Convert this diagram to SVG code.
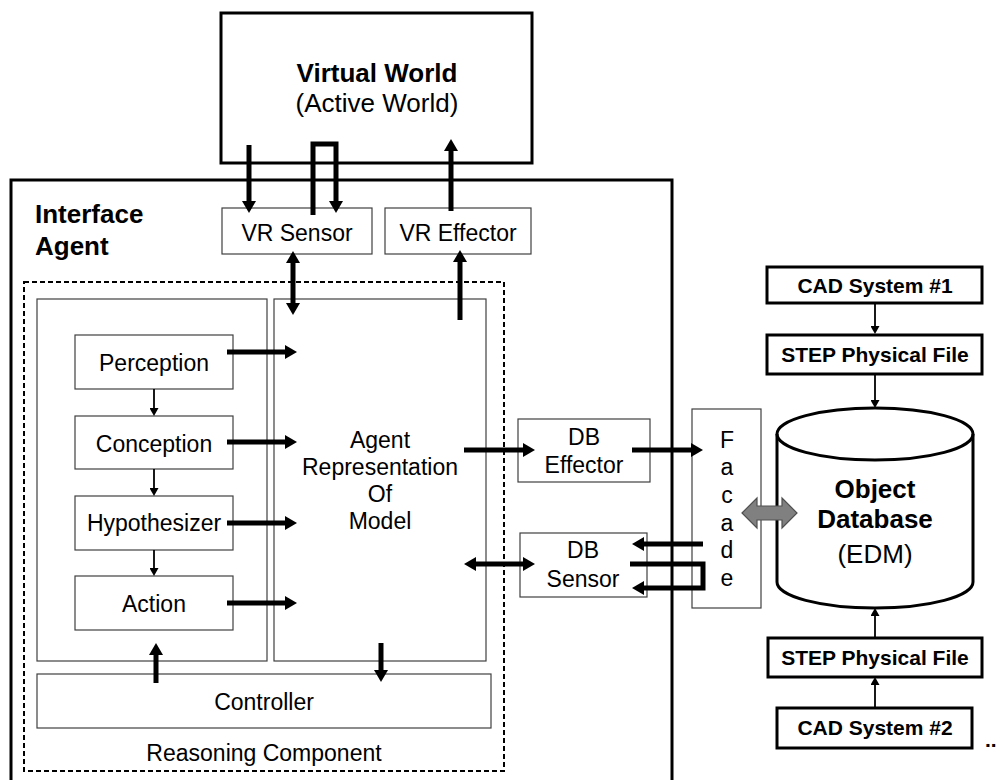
<svg xmlns="http://www.w3.org/2000/svg" width="1000" height="780" viewBox="0 0 1000 780">
<style>
.t{font-family:"Liberation Sans",Arial,sans-serif;font-size:23px;fill:#000;text-anchor:middle}
.b{font-family:"Liberation Sans",Arial,sans-serif;font-weight:bold;fill:#000}
.thick{fill:#fff;stroke:#000;stroke-width:3}
.thin{fill:#fff;stroke:#404040;stroke-width:1.2}
.c{fill:none;stroke:#000;stroke-width:5}
.cs{fill:none;stroke:#000;stroke-width:1.8}
</style>
<defs>
<marker id="ah" viewBox="0 0 12 14" refX="4" refY="7" markerWidth="12" markerHeight="14" markerUnits="userSpaceOnUse" orient="auto-start-reverse">
<path d="M0,0 L12,7 L0,14 Z" fill="#000"/>
</marker>
<marker id="ahs" viewBox="0 0 8 9" refX="2" refY="4.5" markerWidth="8" markerHeight="9" markerUnits="userSpaceOnUse" orient="auto">
<path d="M0,0 L8,4.5 L0,9 Z" fill="#000"/>
</marker>
</defs>
<rect width="1000" height="780" fill="#fff"/>

<g id="interface-agent">
<rect class="thick" x="11" y="180" width="661" height="640"/>
<text class="b" font-size="26" x="35" y="223">Interface</text>
<text class="b" font-size="26" x="35" y="255">Agent</text>
</g>

<g id="virtual-world">
<rect class="thick" x="221" y="13" width="311" height="150"/>
<text class="b" font-size="26" x="377" y="82" text-anchor="middle">Virtual World</text>
<text class="t" font-size="26" x="377" y="112" style="font-size:26px">(Active World)</text>
</g>

<g id="vr-sensor">
<rect class="thin" x="222" y="208" width="150" height="46"/>
<text class="t" x="297" y="241">VR Sensor</text>
</g>
<g id="vr-effector">
<rect class="thin" x="385" y="208" width="146" height="46"/>
<text class="t" x="458" y="241">VR Effector</text>
</g>

<g id="reasoning-component">
<rect x="24" y="282" width="480" height="489" fill="none" stroke="#000" stroke-width="2" stroke-dasharray="5,3"/>
<text class="t" x="264" y="761">Reasoning Component</text>
</g>

<g id="process-panel">
<rect class="thin" x="37" y="299" width="230" height="362"/>
</g>
<g id="perception">
<rect class="thin" x="75" y="335" width="158" height="54"/>
<text class="t" x="154" y="371">Perception</text>
</g>
<g id="conception">
<rect class="thin" x="75" y="416" width="158" height="53"/>
<text class="t" x="154" y="452">Conception</text>
</g>
<g id="hypothesizer">
<rect class="thin" x="75" y="496" width="158" height="54"/>
<text class="t" x="154" y="531">Hypothesizer</text>
</g>
<g id="action">
<rect class="thin" x="75" y="576" width="158" height="54"/>
<text class="t" x="154" y="612">Action</text>
</g>

<g id="agent-model">
<rect class="thin" x="274" y="299" width="212" height="362"/>
<text class="t" x="380" y="448">Agent</text>
<text class="t" x="380" y="475">Representation</text>
<text class="t" x="380" y="502">Of</text>
<text class="t" x="380" y="529">Model</text>
</g>

<g id="controller">
<rect class="thin" x="37" y="674" width="454" height="54"/>
<text class="t" x="264" y="710">Controller</text>
</g>

<g id="db-effector">
<rect class="thin" x="518" y="419" width="132" height="63"/>
<text class="t" x="584" y="445">DB</text>
<text class="t" x="584" y="473">Effector</text>
</g>
<g id="db-sensor">
<rect class="thin" x="520" y="533" width="127" height="64"/>
<text class="t" x="583" y="558">DB</text>
<text class="t" x="583" y="587">Sensor</text>
</g>

<g id="facade">
<rect class="thin" x="692" y="409" width="69" height="199"/>
<text class="t" x="727" y="448">F</text>
<text class="t" x="727" y="475">a</text>
<text class="t" x="727" y="503">c</text>
<text class="t" x="727" y="531">a</text>
<text class="t" x="727" y="558">d</text>
<text class="t" x="727" y="586">e</text>
</g>

<g id="object-database">
<path d="M777,434 A98,26 0 0,1 973,434 V582 A98,26 0 0,1 777,582 Z" fill="#fff" stroke="#000" stroke-width="3"/>
<path d="M777,434 A98,26 0 0,0 973,434" fill="none" stroke="#000" stroke-width="3"/>
<text class="b" font-size="26" x="875" y="498" text-anchor="middle">Object</text>
<text class="b" font-size="26" x="875" y="528" text-anchor="middle">Database</text>
<text class="t" x="875" y="563" style="font-size:26px">(EDM)</text>
</g>

<g id="cad-system-1">
<rect class="thick" x="767" y="267" width="215" height="36"/>
<text class="b" font-size="21" x="875" y="293" text-anchor="middle">CAD System #1</text>
</g>
<g id="step-file-1">
<rect class="thick" x="767" y="335" width="215" height="39"/>
<text class="b" font-size="21" x="875" y="362" text-anchor="middle">STEP Physical File</text>
</g>
<g id="step-file-2">
<rect class="thick" x="768" y="638" width="214" height="39"/>
<text class="b" font-size="21" x="875" y="665" text-anchor="middle">STEP Physical File</text>
</g>
<g id="cad-system-2">
<rect class="thick" x="777" y="708" width="195" height="40"/>
<text class="b" font-size="21" x="875" y="735" text-anchor="middle">CAD System #2</text>
</g>
<g id="more">
<text class="b" font-size="21" x="985" y="747">..</text>
</g>

<g id="connectors">
<line class="c" x1="249" y1="145" x2="249" y2="205" marker-end="url(#ah)"/>
<path class="c" d="M313,215 V144 H336 V205" marker-end="url(#ah)"/>
<line class="c" x1="451" y1="211" x2="451" y2="147" marker-end="url(#ah)"/>
<line class="c" x1="293" y1="259" x2="293" y2="307" marker-start="url(#ah)" marker-end="url(#ah)"/>
<line class="c" x1="460" y1="320" x2="460" y2="258" marker-end="url(#ah)"/>
<line class="c" x1="227" y1="352" x2="289" y2="352" marker-end="url(#ah)"/>
<line class="c" x1="227" y1="442" x2="289" y2="442" marker-end="url(#ah)"/>
<line class="c" x1="227" y1="523" x2="289" y2="523" marker-end="url(#ah)"/>
<line class="c" x1="227" y1="603" x2="289" y2="603" marker-end="url(#ah)"/>
<line class="c" x1="156" y1="683" x2="156" y2="651" marker-end="url(#ah)"/>
<line class="c" x1="381" y1="643" x2="381" y2="674" marker-end="url(#ah)"/>
<line class="c" x1="464" y1="450" x2="527" y2="450" marker-end="url(#ah)"/>
<line class="c" x1="632" y1="450" x2="695" y2="450" marker-end="url(#ah)"/>
<line class="c" x1="472" y1="564" x2="527" y2="564" marker-start="url(#ah)" marker-end="url(#ah)"/>
<line class="c" x1="703" y1="544" x2="640" y2="544" marker-end="url(#ah)"/>
<path class="c" d="M630,564 H703 V588 H640" marker-end="url(#ah)"/>
<line class="cs" x1="154" y1="389" x2="154" y2="410" marker-end="url(#ahs)"/>
<line class="cs" x1="154" y1="469" x2="154" y2="490" marker-end="url(#ahs)"/>
<line class="cs" x1="154" y1="550" x2="154" y2="570" marker-end="url(#ahs)"/>
<line class="cs" x1="875" y1="303" x2="875" y2="328" marker-end="url(#ahs)"/>
<line class="cs" x1="875" y1="374" x2="875" y2="402" marker-end="url(#ahs)"/>
<line class="cs" x1="875" y1="638" x2="875" y2="614" marker-end="url(#ahs)"/>
<line class="cs" x1="875" y1="708" x2="875" y2="683" marker-end="url(#ahs)"/>
<polygon points="742,513 757,498 757,506 782,506 782,498 797,513 782,528 782,520 757,520 757,528" fill="#808080" stroke="#505050" stroke-width="1.2"/>
</g>
</svg>
